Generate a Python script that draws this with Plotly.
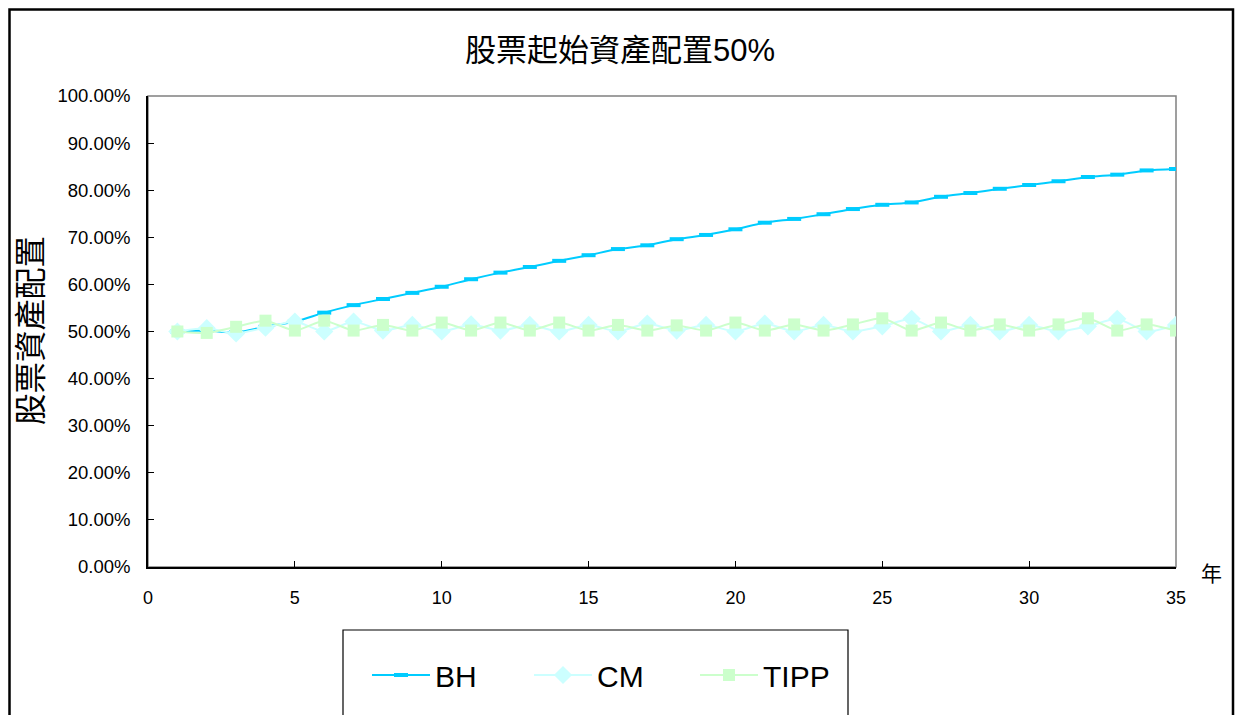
import plotly.graph_objects as go

years = list(range(1, 36))
bh = [50.0, 50.2, 49.8, 51.0, 52.1, 54.0, 55.6, 56.9, 58.2, 59.5,
      61.1, 62.5, 63.7, 65.0, 66.2, 67.5, 68.3, 69.6, 70.5, 71.7,
      73.1, 73.9, 74.9, 76.0, 76.9, 77.4, 78.6, 79.4, 80.3, 81.1,
      81.9, 82.8, 83.3, 84.2, 84.5]
cm = [50.0, 50.7, 49.6, 50.8, 52.1, 50.0, 52.1, 50.2, 51.4, 50.0,
      51.5, 50.2, 51.4, 50.0, 51.4, 50.0, 51.7, 50.2, 51.4, 50.0,
      51.7, 50.0, 51.4, 50.0, 51.1, 52.7, 50.0, 51.4, 50.0, 51.4,
      50.0, 51.1, 52.7, 50.0, 51.4]
tipp = [50.0, 49.7, 51.0, 52.3, 50.2, 52.3, 50.2, 51.4, 50.2, 51.9,
        50.2, 51.9, 50.2, 51.9, 50.2, 51.4, 50.2, 51.3, 50.2, 51.9,
        50.2, 51.5, 50.2, 51.5, 52.8, 50.2, 51.9, 50.2, 51.5, 50.2,
        51.5, 52.8, 50.2, 51.5, 50.2]
series_names = ["BH", "CM", "TIPP"]
title_text = "股票起始資產配置50%"
y_title = "股票資產配置"
x_unit = "年"

BH_C = "#00CCFF"
CM_C = "#CCFFFF"
TIPP_C = "#CCFFCC"
FONT = "Liberation Sans, Arial, Noto Sans CJK TC, sans-serif"

OFF = 8  # page body margin
W, H = 1244, 715
# target screen positions of the plot area
X0, X1, Y0, Y1 = 148, 1176, 96, 567
L, T = X0 - OFF, Y0 - OFF
R = W - (X1 - OFF)
B = H - (Y1 - OFF)
pw, ph = X1 - X0, Y1 - Y0

def px(x):
    return (x - X0) / pw

def py(y):
    return (Y1 - y) / ph

fig = go.Figure()
fig.add_trace(go.Scatter(
    x=years, y=[v / 100 for v in bh], name=series_names[0], mode="lines+markers",
    line=dict(color=BH_C, width=2, shape="spline", smoothing=0.6),
    marker=dict(symbol="line-ew", size=10, line=dict(color=BH_C, width=4)),
    legend="legend"))
fig.add_trace(go.Scatter(
    x=years, y=[v / 100 for v in cm], name=series_names[1], mode="lines+markers",
    line=dict(color=CM_C, width=2, shape="spline", smoothing=0.6),
    marker=dict(symbol="diamond", size=14, color=CM_C),
    legend="legend2"))
fig.add_trace(go.Scatter(
    x=years, y=[v / 100 for v in tipp], name=series_names[2], mode="lines+markers",
    line=dict(color=TIPP_C, width=2, shape="spline", smoothing=0.6),
    marker=dict(symbol="square", size=12, color=TIPP_C),
    legend="legend3"))

def leg(x):
    return dict(x=px(x), y=py(675), xanchor="left", yanchor="middle",
                font=dict(family=FONT, size=30, color="black"),
                bgcolor="rgba(0,0,0,0)", borderwidth=0, itemwidth=58)

fig.update_layout(
    width=W, height=H,
    margin=dict(l=L, r=R, t=T, b=B),
    paper_bgcolor="white", plot_bgcolor="white",
    showlegend=True,
    legend=leg(367), legend2=leg(529), legend3=leg(695),
    font=dict(family=FONT, color="black"),
    xaxis=dict(range=[0, 35], tickmode="array", tickvals=[0, 5, 10, 15, 20, 25, 30, 35],
               showgrid=False, zeroline=False, showline=True, linecolor="black", linewidth=1.5,
               ticks="inside", ticklen=6, tickcolor="black",
               tickfont=dict(family=FONT, size=18, color="black"), ticklabelstandoff=14),
    yaxis=dict(range=[0, 1], dtick=0.1, tickformat=".2%",
               showgrid=False, zeroline=False, showline=True, linecolor="black", linewidth=1.5,
               ticks="inside", ticklen=6, tickcolor="black",
               tickfont=dict(family=FONT, size=18.5, color="black"), ticklabelstandoff=12),
    shapes=[
        dict(type="rect", xref="paper", yref="paper", x0=0, x1=1, y0=0, y1=1,
             line=dict(color="#808080", width=1.5), layer="below"),
        dict(type="rect", xref="paper", yref="paper", x0=px(9.5), x1=px(1233), y0=py(9.5), y1=py(740),
             line=dict(color="black", width=2.5)),
        dict(type="rect", xref="paper", yref="paper", x0=px(343), x1=px(848), y0=py(630), y1=py(740),
             line=dict(color="black", width=1.2)),
    ],
    annotations=[
        dict(text=title_text, xref="paper", yref="paper", x=px(620), y=py(50),
             xanchor="center", yanchor="middle",
             showarrow=False, font=dict(family=FONT, size=31, color="black")),
        dict(text=y_title, xref="paper", yref="paper", x=px(31), y=py(331), textangle=-90,
             xanchor="center", yanchor="middle",
             showarrow=False, font=dict(family=FONT, size=31.5, color="black")),
        dict(text=x_unit, xref="paper", yref="paper", x=px(1211), y=py(573),
             xanchor="center", yanchor="middle",
             showarrow=False, font=dict(family=FONT, size=21, color="black")),
    ],
)

fig.write_html("out.html")
